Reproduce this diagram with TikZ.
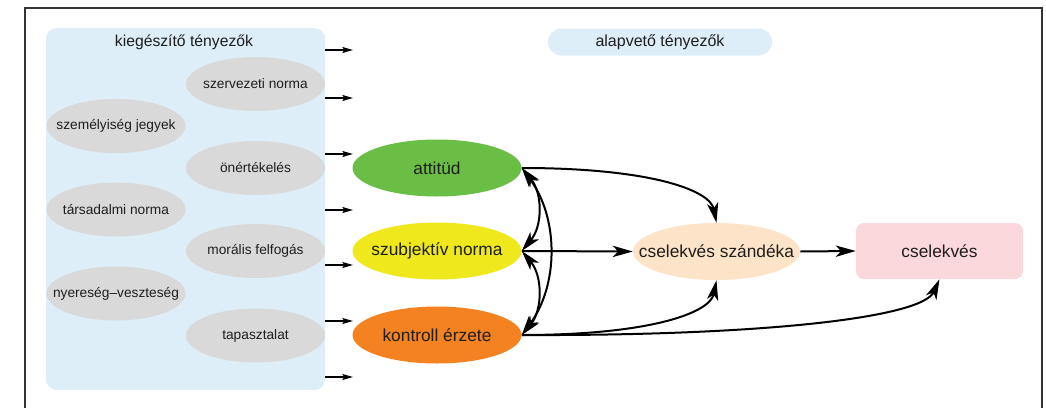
\documentclass[tikz,border=0pt]{standalone}
\usepackage{fontspec}
\setmainfont{Liberation Sans}
\usetikzlibrary{shapes.geometric,arrows.meta}
\definecolor{panelblue}{HTML}{DDEEF9}
\definecolor{greyell}{HTML}{D9D9D9}
\definecolor{attgreen}{HTML}{6BBE45}
\definecolor{szubyellow}{HTML}{EEE81C}
\definecolor{kontorange}{HTML}{F58220}
\definecolor{peach}{HTML}{FDE4C8}
\definecolor{pinkbox}{HTML}{FBD8DC}
\definecolor{txt}{HTML}{1E1E1E}
\definecolor{framec}{HTML}{333333}
\newcommand{\zb}[1]{\makebox[0pt]{#1}}
\tikzset{
  greynode/.style={ellipse,fill=greyell,minimum width=139*0.75pt,minimum height=54*0.75pt,inner sep=0pt,text=txt,font=\fontsize{10.3}{12}\selectfont},
  mainnode/.style={ellipse,minimum width=169*0.75pt,minimum height=57*0.75pt,inner sep=0pt,text=txt,font=\fontsize{13}{15}\selectfont},
  smallarrow/.style={line width=1.1pt,-{Stealth[length=8pt,width=4.5pt,inset=1.5pt]},black},
  bigarrow/.style={line width=1.5pt,-{Stealth[length=15pt,width=8.5pt,inset=4pt]},black},
  dblarrow/.style={line width=1.5pt,{Stealth[length=15pt,width=8.5pt,inset=4pt]}-{Stealth[length=15pt,width=8.5pt,inset=4pt]},black},
}
\begin{document}
\begin{tikzpicture}[x=0.75pt,y=-0.75pt]
\useasboundingbox (0,0) rectangle (1046,407);
% frame
\draw[framec,line width=2.2pt] (25,410) -- (25,8) -- (1042,8) -- (1042,410);
% left panel
\node[fill=panelblue,rounded corners=8pt,minimum width=279*0.75pt,minimum height=362*0.75pt,inner sep=0pt] (panel) at (185.5,209) {};
\node[text=txt,font=\fontsize{11.8}{14}\selectfont] (kt) at (184,42) {kiegészítő tényezők};
% grey ellipses
\node[greynode] (szn) at (255.5,84) {\zb{szervezeti norma}};
\node[greynode] (szj) at (116,126) {\zb{személyiség jegyek}};
\node[greynode] (onk) at (255.5,168) {\zb{önértékelés}};
\node[greynode] (tn) at (116,209.5) {\zb{társadalmi norma}};
\node[greynode] (mf) at (255.5,251) {\zb{morális felfogás}};
\node[greynode] (nv) at (116,293.5) {\zb{nyereség–veszteség}};
\node[greynode] (tap) at (255.5,335.5) {\zb{tapasztalat}};
% small arrows
\foreach \i/\yy in {1/50,2/98,3/154,4/210,5/265,6/321,7/377}{
  \coordinate (s\i) at (325,\yy);
  \coordinate (e\i) at (353,\yy);
  \draw[smallarrow] (s\i) -- (e\i);
}
% pill
\node[fill=panelblue,rounded corners=10pt,minimum width=224*0.75pt,minimum height=27*0.75pt,inner sep=0pt,text=txt,font=\fontsize{12}{14}\selectfont] (alap) at (660,42) {alapvető tényezők};
% main nodes
\node[mainnode,fill=attgreen] (att) at (437,168) {\zb{attitüd}};
\node[mainnode,fill=szubyellow] (szub) at (437,251) {\zb{szubjektív norma}};
\node[mainnode,fill=kontorange] (kont) at (437,335) {\zb{kontroll érzete}};
\node[mainnode,fill=peach,minimum width=167*0.75pt] (szand) at (716.5,251.5) {\zb{cselekvés szándéka}};
\node[fill=pinkbox,rounded corners=6pt,minimum width=167*0.75pt,minimum height=56*0.75pt,inner sep=0pt,text=txt,font=\fontsize{13}{15}\selectfont] (csel) at (939.5,251) {cselekvés};
% arrows
\draw[bigarrow] (att.east) .. controls (650,168) and (710,190) .. (szand.north);
\draw[bigarrow] (kont.east) .. controls (650,335) and (710,313) .. (szand.south);
\draw[bigarrow] (szub.east) -- (szand.west);
\draw[bigarrow] (szand.east) -- (csel.west);
\draw[bigarrow] (kont.east) .. controls (760,336) and (922,318) .. (csel.south);
\draw[dblarrow] (att.east) .. controls +(21,25) and +(21,-25) .. (szub.east);
\draw[dblarrow] (szub.east) .. controls +(21,25) and +(21,-25) .. (kont.east);
\draw[dblarrow] (att.east) .. controls +(37,50) and +(37,-50) .. (kont.east);
\end{tikzpicture}
\end{document}
